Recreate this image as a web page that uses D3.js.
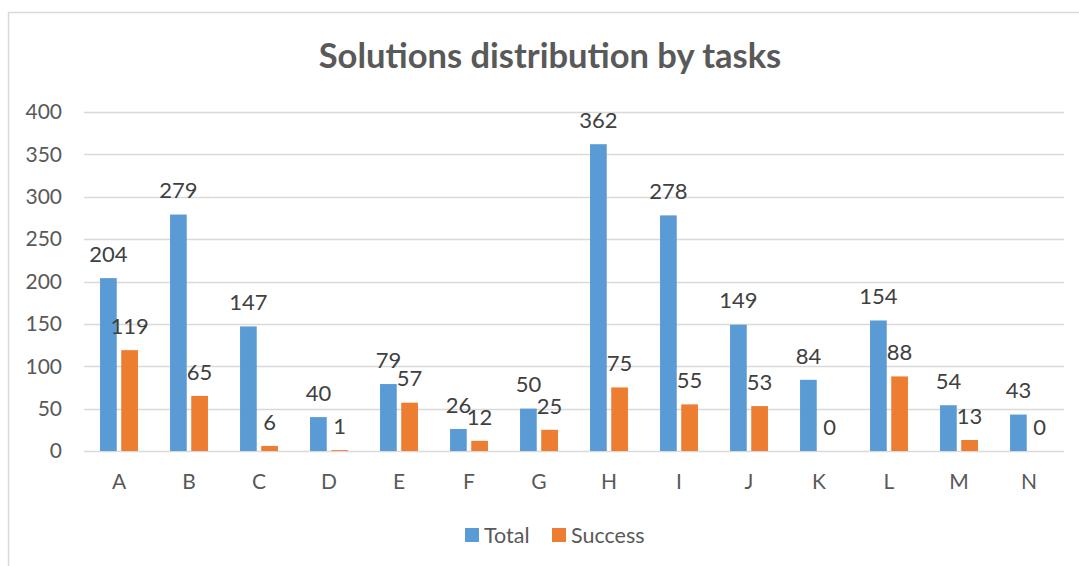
<!DOCTYPE html>
<html>
<head>
<meta charset="utf-8">
<script src="https://d3js.org/d3.v7.min.js"></script>
<style>
  body { margin: 0; background: #fff; }
  svg { display: block; font-family: Lato, "Open Sans", sans-serif; }
</style>
</head>
<body>
<div id="chart"></div>
<script>
const tasks = ['A', 'B', 'C', 'D', 'E', 'F', 'G', 'H', 'I', 'J', 'K', 'L', 'M', 'N'];
const totalVals = [204, 279, 147, 40, 79, 26, 50, 362, 278, 149, 84, 154, 54, 43];
const successVals = [119, 65, 6, 1, 57, 12, 25, 75, 55, 53, 0, 88, 13, 0];
const seriesNames = ['Total', 'Success'];
const yTicks = [0, 50, 100, 150, 200, 250, 300, 350, 400];

const W = 1079, H = 566;
const colors = { Total: '#5b9bd5', Success: '#ed7d31' };
const textColor = '#595959';

const svg = d3.select('#chart').append('svg').attr('width', W).attr('height', H);

// chart frame
svg.append('path')
  .attr('d', `M8.5,${H} L8.5,12.5 L${W},12.5`)
  .attr('fill', 'none').attr('stroke', '#d9d9d9').attr('stroke-width', 1.5);

svg.append('text')
  .attr('x', 550).attr('y', 68)
  .attr('text-anchor', 'middle')
  .attr('font-size', 34.5).attr('font-weight', 'bold')
  .attr('fill', textColor)
  .text('Solutions distribution by tasks');

const x = d3.scaleBand().domain(tasks).range([84, 1064]);
const y = d3.scaleLinear().domain([0, 400]).range([451, 112]);

// gridlines
svg.append('g').selectAll('line').data(yTicks).enter().append('line')
  .attr('x1', 84).attr('x2', 1064)
  .attr('y1', (d) => Math.round(y(d)) + 0.5).attr('y2', (d) => Math.round(y(d)) + 0.5)
  .attr('stroke', '#d9d9d9').attr('stroke-width', 1.5);

// y tick labels
svg.append('g').selectAll('text').data(yTicks).enter().append('text')
  .attr('x', 62).attr('y', (d) => y(d)).attr('dy', '0.35em')
  .attr('text-anchor', 'end').attr('font-size', 21).attr('fill', textColor)
  .text((d) => d);

// x labels
svg.append('g').selectAll('text').data(tasks).enter().append('text')
  .attr('x', (d) => x(d) + x.bandwidth() / 2).attr('y', 489)
  .attr('text-anchor', 'middle').attr('font-size', 21).attr('fill', textColor)
  .text((d) => d);

// bars: gap width ~219%, overlap ~ -27%
const barW = x.bandwidth() / (2 + 2.19);
const barGap = barW * 0.27;
const inner = d3.scaleOrdinal().domain(seriesNames)
  .range([-barGap / 2 - barW, barGap / 2]);

const rows = [];
tasks.forEach((t, i) => {
  rows.push({ task: t, series: 'Total', value: totalVals[i] });
  rows.push({ task: t, series: 'Success', value: successVals[i] });
});

const bars = svg.append('g');
bars.selectAll('rect').data(rows).enter().append('rect')
  .attr('x', (d) => x(d.task) + x.bandwidth() / 2 + inner(d.series))
  .attr('y', (d) => y(d.value))
  .attr('width', barW)
  .attr('height', (d) => y(0) - y(d.value))
  .attr('fill', (d) => colors[d.series]);

bars.selectAll('text').data(rows).enter().append('text')
  .attr('x', (d) => x(d.task) + x.bandwidth() / 2 + inner(d.series) + barW / 2)
  .attr('y', (d) => y(d.value) - 24)
  .attr('dy', '0.35em')
  .attr('text-anchor', 'middle').attr('font-size', 22).attr('fill', '#404040')
  .text((d) => d.value);

// legend
const legend = svg.append('g');
const legX = [465, 552];
seriesNames.forEach((s, i) => {
  legend.append('rect').attr('x', legX[i]).attr('y', 528).attr('width', 14).attr('height', 14)
    .attr('fill', colors[s]);
  legend.append('text').attr('x', legX[i] + 19).attr('y', 535).attr('dy', '0.35em')
    .attr('font-size', 21.5).attr('fill', textColor).text(s);
});
</script>
</body>
</html>
